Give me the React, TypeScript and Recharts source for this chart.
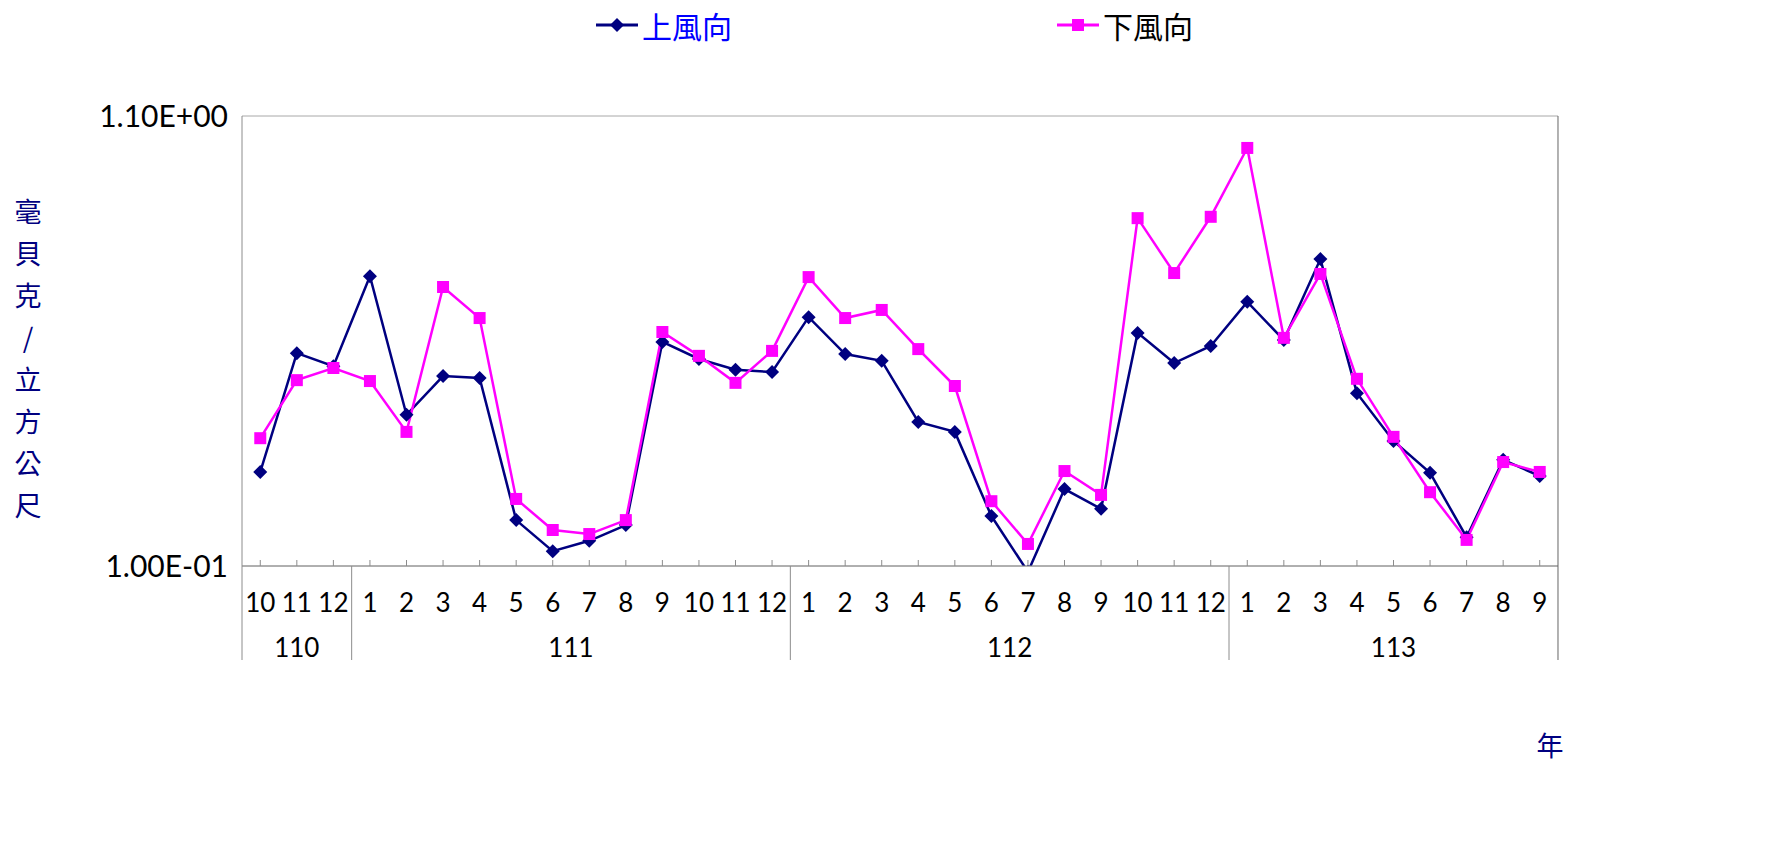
import { LineChart, Line, XAxis, YAxis, CartesianGrid, Legend } from "recharts";

// months on the lower axis row, with the ROC year each one belongs to
const months = [
  "10", "11", "12",
  "1", "2", "3", "4", "5", "6", "7", "8", "9", "10", "11", "12",
  "1", "2", "3", "4", "5", "6", "7", "8", "9", "10", "11", "12",
  "1", "2", "3", "4", "5", "6", "7", "8", "9",
];
const years = [
  "110", "110", "110",
  "111", "111", "111", "111", "111", "111", "111", "111", "111", "111", "111", "111",
  "112", "112", "112", "112", "112", "112", "112", "112", "112", "112", "112", "112",
  "113", "113", "113", "113", "113", "113", "113", "113", "113",
];

// 上風向 (upwind)
const upwind = [
  0.309, 0.573, 0.544,
  0.744, 0.436, 0.522, 0.518, 0.202, 0.133, 0.156, 0.191, 0.598, 0.56, 0.536, 0.531,
  0.653, 0.571, 0.556, 0.42, 0.398, 0.211, 0.087, 0.271, 0.227, 0.618, 0.551, 0.589,
  0.687, 0.602, 0.782, 0.484, 0.378, 0.307, 0.164, 0.336, 0.3,
];

// 下風向 (downwind)
const downwind = [
  0.384, 0.513, 0.54,
  0.511, 0.398, 0.72, 0.651, 0.249, 0.18, 0.171, 0.202, 0.62, 0.567, 0.507, 0.578,
  0.742, 0.651, 0.669, 0.582, 0.5, 0.244, 0.149, 0.311, 0.258, 0.873, 0.751, 0.876,
  1.029, 0.607, 0.749, 0.516, 0.387, 0.264, 0.158, 0.331, 0.309,
];

const yTicks = [0.1, 1.1];

const data = months.map((m, i) => ({
  month: m,
  year: years[i],
  up: upwind[i],
  down: downwind[i],
}));

const W = 1789;
const H = 841;
const LEGEND_H = 50;
const X_AXIS_H = 200;
const MARGIN = { top: 66, right: 231, bottom: 75, left: 0 };
const Y_AXIS_W = 242;
const PLOT_W = W - MARGIN.left - MARGIN.right - Y_AXIS_W;
const PLOT_H = H - MARGIN.top - LEGEND_H - MARGIN.bottom - X_AXIS_H;
const STEP = PLOT_W / months.length;

const NAVY = "#000080";
const MAGENTA = "#FF00FF";
const GRAY = "#8C8C8C";
const NUM_FONT = "Lato, 'DejaVu Sans', sans-serif";
const CJK_FONT = "'Noto Sans CJK TC', 'Noto Sans CJK SC', sans-serif";

const legendText: Record<string, string> = { up: "#0000FF", down: "#000000" };

const sci = (v: number) => {
  const [m, e] = v.toExponential(2).split("e");
  const n = Number(e);
  return `${m}E${n < 0 ? "-" : "+"}${String(Math.abs(n)).padStart(2, "0")}`;
};

const diamondPath = (cx: number, cy: number, r: number) =>
  `M${cx},${cy - r}L${cx + r},${cy}L${cx},${cy + r}L${cx - r},${cy}Z`;

const DiamondDot = (props: any) => {
  const { cx, cy, index } = props;
  if (cx == null || cy == null) return null;
  return <path key={`d${index}`} d={diamondPath(cx, cy, 7)} fill={NAVY} />;
};

const SquareDot = (props: any) => {
  const { cx, cy, index } = props;
  if (cx == null || cy == null) return null;
  return <rect key={`s${index}`} x={cx - 6} y={cy - 6} width={12} height={12} fill={MAGENTA} />;
};

const MonthTick = (props: any) => {
  const { x, y, payload } = props;
  const i = payload.index;
  const start = i === 0 || years[i] !== years[i - 1];
  const last = i === months.length - 1;
  const count = years.filter((yr) => yr === years[i]).length;
  return (
    <g transform={`translate(${x},${y})`}>
      <line x1={0} y1={-6} x2={0} y2={0} stroke={GRAY} />
      <text x={0} y={46} textAnchor="middle" fontFamily={NUM_FONT} fontSize={26} fill="#000">
        {payload.value}
      </text>
      {start && (
        <>
          <line x1={-STEP / 2} y1={0} x2={-STEP / 2} y2={94} stroke={GRAY} />
          <text
            x={((count - 1) / 2) * STEP}
            y={91}
            textAnchor="middle"
            fontFamily={NUM_FONT}
            fontSize={26}
            fill="#000"
          >
            {years[i]}
          </text>
        </>
      )}
      {last && <line x1={STEP / 2} y1={-PLOT_H} x2={STEP / 2} y2={94} stroke="#666" />}
    </g>
  );
};

const renderLegend = (props: any) => {
  const { payload = [] } = props;
  return (
    <div
      style={{
        display: "flex",
        justifyContent: "center",
        alignItems: "center",
        height: LEGEND_H,
        gap: 325,
        fontFamily: CJK_FONT,
        fontSize: 30,
      }}
    >
      {payload.map((entry: any) => (
        <span key={entry.dataKey} style={{ display: "flex", alignItems: "center" }}>
          <svg width={42} height={20}>
            <line x1={0} y1={10} x2={42} y2={10} stroke={entry.color} strokeWidth={3} />
            {entry.dataKey === "up" ? (
              <path d={diamondPath(21, 10, 7)} fill={NAVY} />
            ) : (
              <rect x={15} y={4} width={12} height={12} fill={MAGENTA} />
            )}
          </svg>
          <span style={{ marginLeft: 4, color: legendText[entry.dataKey] }}>{entry.value}</span>
        </span>
      ))}
    </div>
  );
};

const unitChars = ["毫", "貝", "克", "/", "立", "方", "公", "尺"];

const YTitle = (props: any) => {
  const { viewBox } = props;
  return (
    <text x={viewBox.x + 28} y={viewBox.y + 106} textAnchor="middle" fontFamily={CJK_FONT} fontSize={27} fill={NAVY}>
      {unitChars.map((c, k) => (
        <tspan key={k} x={viewBox.x + 28} dy={k === 0 ? 0 : 42}>
          {c}
        </tspan>
      ))}
    </text>
  );
};

const XTitle = (props: any) => {
  const { viewBox } = props;
  return (
    <text
      x={viewBox.x + viewBox.width - 8}
      y={viewBox.y + 190}
      textAnchor="middle"
      fontFamily={CJK_FONT}
      fontSize={27}
      fill={NAVY}
    >
      年
    </text>
  );
};

export default function App() {
  return (
    <div style={{ position: "absolute", left: 0, top: 0, background: "#fff" }}>
      <LineChart width={W} height={H} data={data} margin={MARGIN}>
        <CartesianGrid horizontal vertical={false} stroke="#A8A8A8" />
        <XAxis
          dataKey="month"
          interval={0}
          height={X_AXIS_H}
          padding={{ left: STEP / 2, right: STEP / 2 }}
          tickSize={0}
          tickMargin={0}
          tickLine={false}
          axisLine={{ stroke: GRAY }}
          tick={<MonthTick />}
          label={<XTitle />}
        />
        <YAxis
          width={Y_AXIS_W}
          domain={[0.1, 1.1]}
          ticks={yTicks}
          allowDataOverflow
          tickFormatter={sci}
          tickSize={0}
          tickMargin={14}
          tickLine={false}
          axisLine={{ stroke: GRAY }}
          tick={{ fontFamily: NUM_FONT, fontSize: 30, fill: "#000" }}
          label={<YTitle />}
        />
        <Legend
          verticalAlign="top"
          align="center"
          wrapperStyle={{ top: 0, left: 0, width: W }}
          content={renderLegend}
        />
        <Line
          type="linear"
          dataKey="up"
          name="上風向"
          stroke={NAVY}
          strokeWidth={2.5}
          dot={DiamondDot}
          activeDot={false}
          isAnimationActive={false}
        />
        <Line
          type="linear"
          dataKey="down"
          name="下風向"
          stroke={MAGENTA}
          strokeWidth={2.5}
          dot={SquareDot}
          activeDot={false}
          isAnimationActive={false}
        />
      </LineChart>
    </div>
  );
}
